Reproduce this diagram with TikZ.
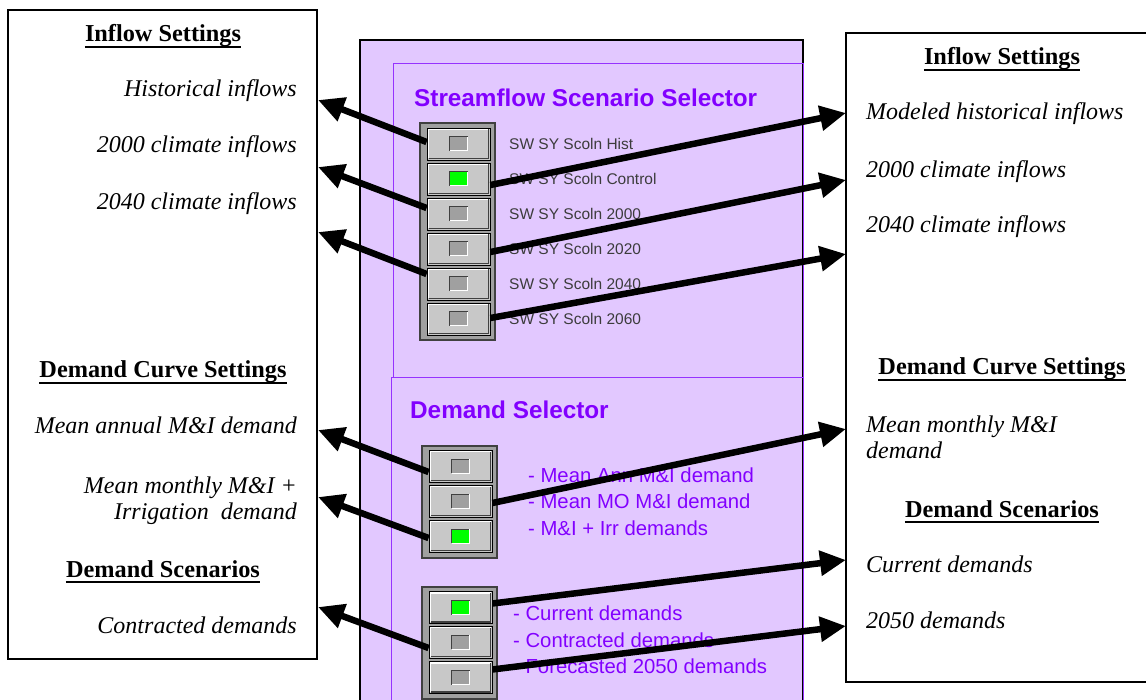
\documentclass[tikz,border=0pt]{standalone}
\usepackage{fontspec}
\setmainfont{Liberation Serif}
\setsansfont{Liberation Sans}
\usetikzlibrary{arrows.meta}

\definecolor{panelfill}{RGB}{226,200,255}
\definecolor{panelline}{RGB}{150,50,255}
\definecolor{selpurple}{RGB}{130,0,255}
\definecolor{btnface}{RGB}{200,200,200}
\definecolor{btnframe}{RGB}{160,160,160}
\definecolor{btndark}{RGB}{64,64,64}
\definecolor{ledoff}{RGB}{160,160,160}
\definecolor{ledon}{RGB}{0,255,0}
\definecolor{caption}{RGB}{60,60,60}

\tikzset{
  settingsbox/.style={draw=black, line width=1.5pt, fill=white},
  selpanel/.style={draw=black, line width=1.5pt, fill=panelfill},
  subpanel/.style={draw=panelline, line width=1pt},
  btnframe/.style={draw=btndark, line width=1.2pt, fill=btnframe, inner sep=0pt, minimum width=75pt},
  btn/.style={draw=black, line width=0.8pt, fill=btnface, minimum width=63pt, minimum height=32pt, inner sep=0pt,
    path picture={
      \draw[white, line width=1.6pt]
        ([shift={(1.5pt,1.5pt)}]path picture bounding box.south west) |-
        ([shift={(-1.5pt,-1.5pt)}]path picture bounding box.north east);
      \draw[btndark, line width=1.6pt]
        ([shift={(1.5pt,1.5pt)}]path picture bounding box.south west) -|
        ([shift={(-1.5pt,-1.5pt)}]path picture bounding box.north east);
      \fill[#1]
        ([shift={(-9pt,-7pt)}]path picture bounding box.center) rectangle
        ([shift={(9pt,7pt)}]path picture bounding box.center);
      \draw[btndark, line width=1pt]
        ([shift={(-9pt,-7pt)}]path picture bounding box.center) |-
        ([shift={(9pt,7pt)}]path picture bounding box.center);
      \draw[white, line width=1pt]
        ([shift={(-9pt,-7pt)}]path picture bounding box.center) -|
        ([shift={(9pt,7pt)}]path picture bounding box.center);
    }},
  btn/.default=ledoff,
  settingtext/.style={inner sep=0pt, font=\fontsize{24}{27}\selectfont\itshape},
  settinghead/.style={inner sep=0pt, font=\fontsize{24.3}{27}\selectfont\bfseries},
  uline/.style={line width=2pt},
  seltitle/.style={inner sep=0pt, anchor=base west, text=selpurple, font=\sffamily\bfseries\fontsize{24.3}{28}\selectfont},
  scenlabel/.style={inner sep=0pt, anchor=base west, text=caption, font=\sffamily\fontsize{15.5}{18}\selectfont},
  demlabel/.style={inner sep=0pt, anchor=base west, text=selpurple, font=\sffamily\fontsize{20.3}{23}\selectfont},
  conn/.style={line width=6.5pt, -{Triangle[length=26pt,width=24pt]}},
}

\begin{document}
\begin{tikzpicture}[x=1pt, y=-1pt]
  \useasboundingbox (0,0) rectangle (1146,700);
  \clip (0,0) rectangle (1146,700);

  % settings boxes at the sides
  \draw[settingsbox] (8,10) rectangle (317,659);
  \draw[settingsbox] (846,33) rectangle (1160,682);

  % selector panel
  \draw[selpanel] (360,40) rectangle (803,720);
  \draw[subpanel] (393,64) rectangle (803,378);
  \draw[subpanel] (391,378) rectangle (803,720);

  \node[seltitle] (t1) at (414,107) {Streamflow Scenario Selector};
  \node[seltitle] (t2) at (410,418) {Demand Selector};

  % streamflow buttons
  \node[btnframe, minimum height=217pt] (f1) at (457.5,231.5) {};
  \node[btn] (s1) at (458.5,144) {};
  \node[btn=ledon] (s2) at (458.5,179) {};
  \node[btn] (s3) at (458.5,214) {};
  \node[btn] (s4) at (458.5,249) {};
  \node[btn] (s5) at (458.5,284) {};
  \node[btn] (s6) at (458.5,319) {};

  \node[scenlabel] (c1) at (509,150) {SW SY Scoln Hist};
  \node[scenlabel] (c2) at (509,185) {SW SY Scoln Control};
  \node[scenlabel] (c3) at (509,220) {SW SY Scoln 2000};
  \node[scenlabel] (c4) at (509,255) {SW SY Scoln 2020};
  \node[scenlabel] (c5) at (509,290) {SW SY Scoln 2040};
  \node[scenlabel] (c6) at (509,325) {SW SY Scoln 2060};

  % demand curve buttons
  \node[btnframe, minimum height=112pt] (f2) at (459.5,502) {};
  \node[btn] (d1) at (460.5,466) {};
  \node[btn] (d2) at (460.5,501) {};
  \node[btn=ledon] (d3) at (460.5,536) {};

  \node[demlabel] (e1) at (528,482) {- Mean Ann M\&I demand};
  \node[demlabel] (e2) at (528,508) {- Mean MO M\&I demand};
  \node[demlabel] (e3) at (528,535) {- M\&I + Irr demands};

  % demand scenario buttons
  \node[btnframe, minimum height=112pt] (f3) at (459.5,643) {};
  \node[btn=ledon] (g1) at (460.5,607.5) {};
  \node[btn] (g2) at (460.5,642) {};
  \node[btn] (g3) at (460.5,677.5) {};

  \node[demlabel] (h1) at (513,620) {- Current demands};
  \node[demlabel] (h2) at (513,647) {- Contracted demands};
  \node[demlabel] (h3) at (513,673) {- Forecasted 2050 demands};

  % left settings text
  \node[settinghead, anchor=base] (hL1) at (163,42) {Inflow Settings};
  \node[settingtext, anchor=base east] (L1) at (297,97) {Historical inflows};
  \node[settingtext, anchor=base east] (L2) at (297,153) {2000 climate inflows};
  \node[settingtext, anchor=base east] (L3) at (297,210) {2040 climate inflows};
  \node[settinghead, anchor=base] (hL2) at (163,378) {Demand Curve Settings};
  \node[settingtext, anchor=base east] (L4) at (297,433) {Mean annual M\&I demand};
  \node[settingtext, anchor=base east] (L5a) at (297,493) {Mean monthly M\&I +};
  \node[settingtext, anchor=base east] (L5b) at (297,519) {Irrigation~ demand};
  \node[settinghead, anchor=base] (hL3) at (163,577) {Demand Scenarios};
  \node[settingtext, anchor=base east] (L6) at (297,633) {Contracted demands};

  % right settings text
  \node[settinghead, anchor=base] (hR1) at (1002,65) {Inflow Settings};
  \node[settingtext, anchor=base west] (R1) at (866,120) {Modeled historical inflows};
  \node[settingtext, anchor=base west] (R2) at (866,178) {2000 climate inflows};
  \node[settingtext, anchor=base west] (R3) at (866,233) {2040 climate inflows};
  \node[settinghead, anchor=base] (hR2) at (1002,375) {Demand Curve Settings};
  \node[settingtext, anchor=base west] (R4a) at (866,432) {Mean monthly M\&I};
  \node[settingtext, anchor=base west] (R4b) at (866,458) {demand};
  \node[settinghead, anchor=base] (hR3) at (1002,517) {Demand Scenarios};
  \node[settingtext, anchor=base west] (R5) at (866,572) {Current demands};
  \node[settingtext, anchor=base west] (R6) at (866,628) {2050 demands};

  \foreach \h in {hL1,hL2,hL3,hR1,hR2,hR3}
    \draw[uline] ([yshift=-5pt]\h.base west) -- ([yshift=-5pt]\h.base east);

  % arrow tips on the box edges
  \coordinate (aL1) at (318,100);
  \coordinate (aL2) at (318,167);
  \coordinate (aL3) at (318,232);
  \coordinate (aL4) at (318,430);
  \coordinate (aL5) at (318,497);
  \coordinate (aL6) at (318,607);
  \coordinate (aR1) at (846,113);
  \coordinate (aR2) at (846,180);
  \coordinate (aR3) at (846,254);
  \coordinate (aR4) at (846,429);
  \coordinate (aR5) at (846,560);
  \coordinate (aR6) at (846,626);

  % connectors
  \draw[conn] ([yshift=2pt]s1.west) -- (aL1);
  \draw[conn] ([yshift=6pt]s3.west) -- (aL2);
  \draw[conn] ([yshift=10pt]s5.west) -- (aL3);
  \draw[conn] ([yshift=-6pt]s2.east) -- (aR1);
  \draw[conn] ([yshift=-3pt]s4.east) -- (aR2);
  \draw[conn] ([yshift=1pt]s6.east) -- (aR3);
  \draw[conn] ([yshift=-6pt]d1.west) -- (aL4);
  \draw[conn] ([yshift=-2pt]d3.west) -- (aL5);
  \draw[conn] ([yshift=-2pt]d2.east) -- (aR4);
  \draw[conn] ([yshift=4pt]g1.east) -- (aR5);
  \draw[conn] ([yshift=8pt]g3.east) -- (aR6);
  \draw[conn] ([yshift=-6pt]g2.west) -- (aL6);
\end{tikzpicture}
\end{document}
